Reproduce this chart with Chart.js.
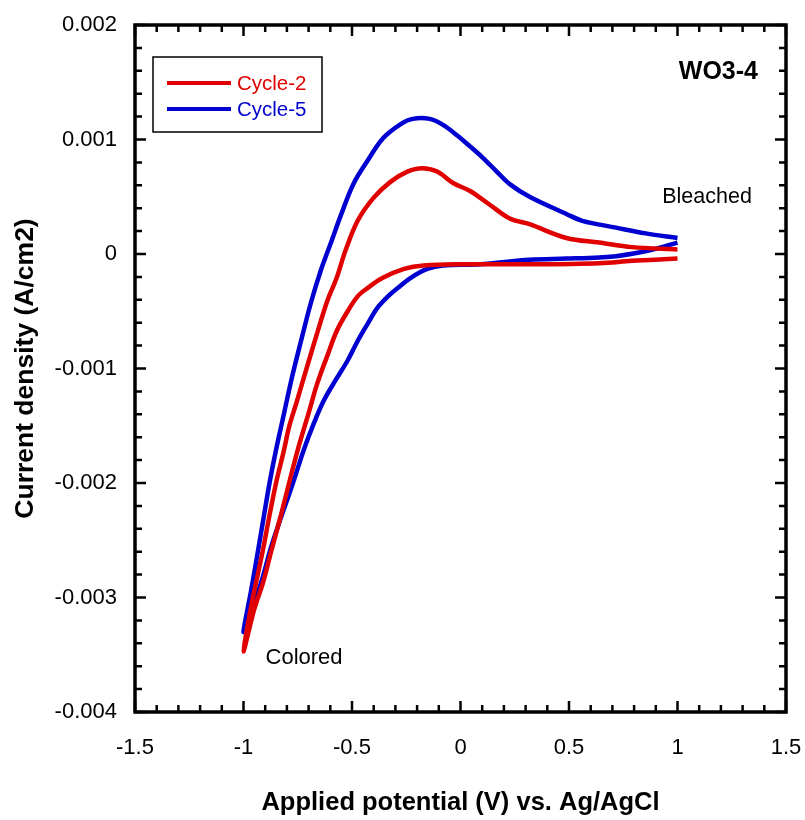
<!DOCTYPE html>
<html lang="en">
<head>
<meta charset="UTF-8">
<title>WO3-4 Cyclic Voltammetry</title>
<script src="https://cdn.jsdelivr.net/npm/chart.js@4.4.0/dist/chart.umd.min.js"></script>
<style>
    body { margin: 0; background: #ffffff; }
    #wrap { width: 805px; height: 820px; }
</style>
</head>
<body>
<div id="wrap"><canvas id="cvChart" width="805" height="820"></canvas></div>
<script>
// Each cycle: cathodic sweep from 1 V down to -1 V, then anodic sweep back up to 1 V
const cycle2Potential = [
    1.00, 0.79, 0.64, 0.32, 0.01, -0.17, -0.26, -0.36, -0.43, -0.474, -0.52, -0.57,
    -0.61, -0.66, -0.70, -0.75, -0.79, -0.83, -0.87, -0.91, -0.95, -1.00,
    -0.965, -0.942, -0.91, -0.882, -0.85, -0.813, -0.790, -0.753, -0.708, -0.662,
    -0.614, -0.571, -0.530, -0.474, -0.401, -0.323, -0.245, -0.176, -0.108, -0.034,
    0.044, 0.135, 0.227, 0.318, 0.488, 0.639, 0.79, 1.00
];
const cycle2Current = [
    -0.00004, -0.00006, -0.00008, -0.00009, -0.00009, -0.00010, -0.00013, -0.00021,
    -0.00030, -0.00037, -0.00050, -0.00067, -0.00087, -0.00113, -0.00139, -0.00171,
    -0.00200, -0.00230, -0.00258, -0.00287, -0.00310, -0.00347,
    -0.00308, -0.00287, -0.00258, -0.00230, -0.00200, -0.00171, -0.00151, -0.00128,
    -0.00099, -0.00070, -0.00041, -0.00021, 0.00003, 0.00029, 0.00049, 0.00063,
    0.00072, 0.00075, 0.00072, 0.00062, 0.00055, 0.00043, 0.00031, 0.00026,
    0.00014, 0.00010, 0.00006, 0.00004
];

const cycle5Potential = [
    1.00, 0.868, 0.717, 0.639, 0.488, 0.318, 0.089, -0.08, -0.153, -0.231, -0.291,
    -0.323, -0.383, -0.428, -0.474, -0.52, -0.575, -0.63, -0.676, -0.722, -0.772,
    -0.827, -0.873, -0.919, -0.965, -1.00,
    -0.964, -0.932, -0.907, -0.880, -0.850, -0.813, -0.777, -0.735, -0.690, -0.645,
    -0.595, -0.549, -0.494, -0.430, -0.357, -0.279, -0.220, -0.142, -0.082, -0.018,
    0.044, 0.103, 0.167, 0.227, 0.318, 0.488, 0.561, 0.717, 0.854, 1.00
];
const cycle5Current = [
    0.00010, 0.00003, -0.00002, -0.00003, -0.00004, -0.00005, -0.00009, -0.00010,
    -0.00013, -0.00021, -0.00030, -0.00035, -0.00047, -0.00061, -0.00076, -0.00093,
    -0.00110, -0.00128, -0.00148, -0.00171, -0.00200, -0.00230, -0.00256, -0.00287,
    -0.00310, -0.00330,
    -0.00293, -0.00258, -0.00230, -0.00200, -0.00171, -0.00139, -0.00108, -0.00076,
    -0.00043, -0.00015, 0.00011, 0.00035, 0.00061, 0.00081, 0.00101, 0.00113,
    0.00118, 0.00118, 0.00113, 0.00104, 0.00094, 0.00084, 0.00072, 0.00061,
    0.00050, 0.00035, 0.00029, 0.00023, 0.00018, 0.00014
];

const seriesNames = ['Cycle-2', 'Cycle-5'];
const seriesColors = ['#e00000', '#0000d0'];

const xTickValues = [-1.5, -1, -0.5, 0, 0.5, 1, 1.5];
const xTickLabels = ['-1.5', '-1', '-0.5', '0', '0.5', '1', '1.5'];
const yTickValues = [-0.004, -0.003, -0.002, -0.001, 0, 0.001, 0.002];
const yTickLabels = ['-0.004', '-0.003', '-0.002', '-0.001', '0', '0.001', '0.002'];

const fontFamily = '"Liberation Sans", Arial, sans-serif';

function toPoints(xs, ys) {
    return xs.map((v, i) => ({ x: v, y: ys[i] }));
}

// Frame with inward ticks on all four sides (major + minor)
const framePlugin = {
    id: 'frame',
    afterDatasetsDraw(chart) {
        const { ctx, chartArea: a, scales: { x, y } } = chart;
        ctx.save();
        ctx.strokeStyle = '#000';
        ctx.lineWidth = 2.5;
        ctx.beginPath();
        for (let i = 0; i <= 30; i++) {
            const px = x.getPixelForValue(-1.5 + i * 0.1);
            const len = i % 5 === 0 ? 11 : 7;
            ctx.moveTo(px, a.bottom); ctx.lineTo(px, a.bottom - len);
            ctx.moveTo(px, a.top); ctx.lineTo(px, a.top + len);
        }
        for (let i = 0; i <= 30; i++) {
            const py = y.getPixelForValue(-0.004 + i * 0.0002);
            const len = i % 5 === 0 ? 11 : 7;
            ctx.moveTo(a.left, py); ctx.lineTo(a.left + len, py);
            ctx.moveTo(a.right, py); ctx.lineTo(a.right - len, py);
        }
        ctx.stroke();
        ctx.lineWidth = 3.5;
        ctx.strokeRect(a.left, a.top, a.right - a.left, a.bottom - a.top);
        ctx.restore();
    }
};

// Boxed legend in the upper-left corner of the plot
const boxLegendPlugin = {
    id: 'boxLegend',
    afterDraw(chart) {
        const { ctx, chartArea: a } = chart;
        const bx = a.left + 18, by = a.top + 32;
        ctx.save();
        ctx.fillStyle = '#fff';
        ctx.fillRect(bx, by, 169, 75);
        ctx.strokeStyle = '#000';
        ctx.lineWidth = 1.5;
        ctx.strokeRect(bx, by, 169, 75);
        ctx.font = '20.5px ' + fontFamily;
        ctx.textBaseline = 'middle';
        chart.data.datasets.forEach((ds, i) => {
            const ly = by + 26 + i * 26;
            ctx.strokeStyle = ds.borderColor;
            ctx.lineWidth = 4;
            ctx.beginPath();
            ctx.moveTo(bx + 14, ly);
            ctx.lineTo(bx + 78, ly);
            ctx.stroke();
            ctx.fillStyle = ds.borderColor;
            ctx.fillText(ds.label, bx + 84, ly + 1);
        });
        ctx.restore();
    }
};

// Text annotations placed in data coordinates
const notesPlugin = {
    id: 'notes',
    afterDraw(chart, args, opts) {
        const { ctx, scales: { x, y } } = chart;
        ctx.save();
        ctx.fillStyle = '#000';
        ctx.textBaseline = 'middle';
        opts.items.forEach(n => {
            ctx.font = n.font;
            ctx.textAlign = n.align;
            ctx.fillText(n.text, x.getPixelForValue(n.x), y.getPixelForValue(n.y));
        });
        ctx.restore();
    }
};

const ctx = document.getElementById('cvChart').getContext('2d');
const cvChart = new Chart(ctx, {
    type: 'scatter',
    data: {
        datasets: [
            {
                label: seriesNames[0],
                data: toPoints(cycle2Potential, cycle2Current),
                borderColor: seriesColors[0],
                backgroundColor: seriesColors[0]
            },
            {
                label: seriesNames[1],
                data: toPoints(cycle5Potential, cycle5Current),
                borderColor: seriesColors[1],
                backgroundColor: seriesColors[1]
            }
        ]
    },
    options: {
        responsive: false,
        animation: false,
        devicePixelRatio: 1,
        showLine: true,
        elements: {
            point: { radius: 0 },
            line: { borderWidth: 4.5, tension: 0.35, fill: false }
        },
        layout: { padding: { top: 25, right: 19, left: 0, bottom: 0 } },
        plugins: {
            legend: { display: false },
            tooltip: { enabled: false },
            notes: {
                items: [
                    { text: 'WO3-4', x: 1.371, y: 0.00159, align: 'right', font: 'bold 25px ' + fontFamily },
                    { text: 'Bleached', x: 1.136, y: 0.0005, align: 'center', font: '21.5px ' + fontFamily },
                    { text: 'Colored', x: -0.721, y: -0.00353, align: 'center', font: '22px ' + fontFamily }
                ]
            }
        },
        scales: {
            x: {
                type: 'linear',
                min: -1.5,
                max: 1.5,
                afterBuildTicks: s => { s.ticks = xTickValues.map(v => ({ value: v })); },
                afterFit: s => { s.height = 108; s.paddingLeft = 0; s.paddingRight = 0; },
                grid: { display: false, drawTicks: false },
                border: { display: false },
                ticks: {
                    color: '#000',
                    padding: 23,
                    maxRotation: 0,
                    font: { family: fontFamily, size: 22 },
                    callback: (v, i) => xTickLabels[i]
                },
                title: {
                    display: true,
                    text: 'Applied potential (V) vs. Ag/AgCl',
                    color: '#000',
                    font: { family: fontFamily, size: 25.5, weight: 'bold' },
                    padding: { top: 0, bottom: 2 }
                }
            },
            y: {
                type: 'linear',
                min: -0.004,
                max: 0.002,
                afterBuildTicks: s => { s.ticks = yTickValues.map(v => ({ value: v })); },
                afterFit: s => { s.width = 135; s.paddingTop = 0; s.paddingBottom = 0; },
                grid: { display: false, drawTicks: false },
                border: { display: false },
                ticks: {
                    color: '#000',
                    padding: 18,
                    font: { family: fontFamily, size: 22 },
                    callback: (v, i) => yTickLabels[i]
                },
                title: {
                    display: true,
                    text: 'Current density (A/cm2)',
                    color: '#000',
                    font: { family: fontFamily, size: 26.5, weight: 'bold' },
                    padding: { top: 10, bottom: 0 }
                }
            }
        }
    },
    plugins: [framePlugin, boxLegendPlugin, notesPlugin]
});
</script>
</body>
</html>
